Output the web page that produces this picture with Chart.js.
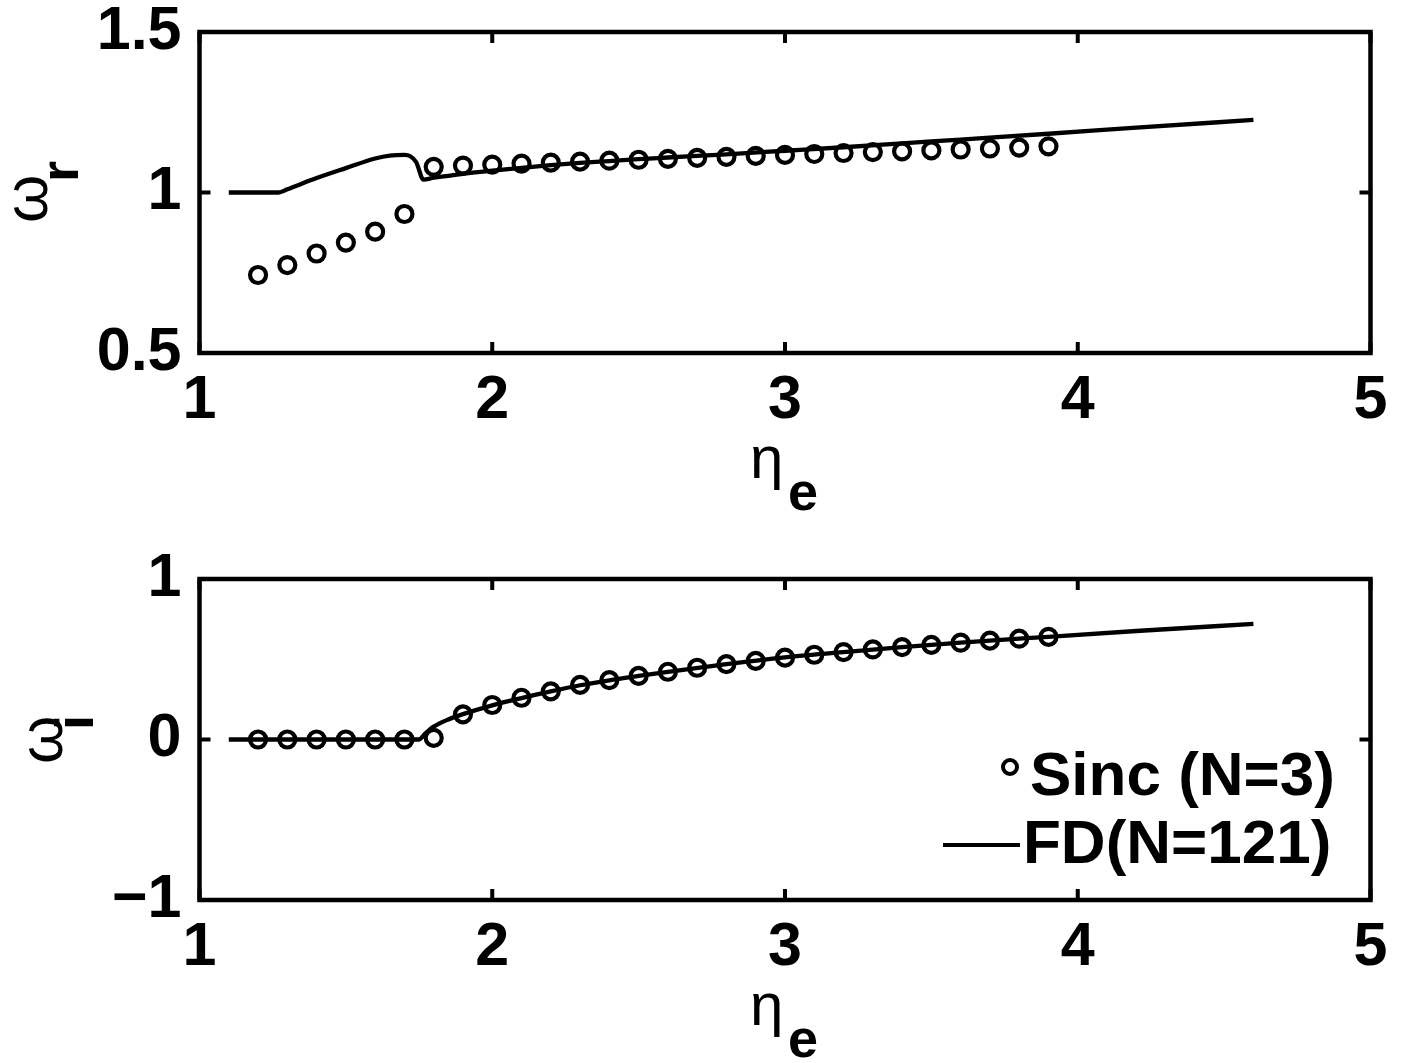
<!DOCTYPE html>
<html>
<head>
<meta charset="utf-8">
<script src="https://cdn.jsdelivr.net/npm/chart.js@4.4.1/dist/chart.umd.min.js"></script>
<style>
  html,body{margin:0;padding:0;background:#fff;}
  #wrap{position:relative;width:1405px;height:1063px;}
  canvas{position:absolute;left:0;}
  #cTop{top:0;}
  #cBot{top:540px;}
</style>
</head>
<body>
<div id="wrap">
  <canvas id="cTop" width="1405" height="540"></canvas>
  <canvas id="cBot" width="1405" height="523"></canvas>
</div>
<script>
/* 두 개의 서브플롯: 위 = 실수부(omega_r), 아래 = 허수부(omega_i) */

const FONT = "'Liberation Sans', Arial, Helvetica, sans-serif";

// Sinc (N=3) : 원형 마커
const ETA_SINC = [1.2,1.3,1.4,1.5,1.6,1.7,1.8,1.9,2.0,2.1,2.2,2.3,2.4,2.5,2.6,2.7,2.8,2.9,3.0,3.1,3.2,3.3,3.4,3.5,3.6,3.7,3.8,3.9];
const WR_SINC  = [0.743,0.774,0.810,0.844,0.878,0.933,1.080,1.084,1.087,1.090,1.093,1.096,1.099,1.102,1.105,1.108,1.111,1.114,1.117,1.120,1.123,1.126,1.128,1.131,1.134,1.137,1.140,1.144];
const WI_SINC  = [0,0,0,0,0,0,0.01,0.157,0.215,0.26,0.30,0.34,0.37,0.396,0.422,0.447,0.47,0.49,0.51,0.528,0.545,0.561,0.576,0.59,0.603,0.616,0.628,0.64];

// FD (N=121) : 실선
const ETA_FD_R = [1.1,1.2,1.27,1.3,1.4,1.5,1.6,1.65,1.7,1.72,1.74,1.765,1.8,1.85,1.9,2.0,2.1,2.2,2.3,2.4,2.5,2.6,2.8,3.0,3.2,3.4,3.6,3.9,4.2,4.6];
const WR_FD    = [1.000,1.000,1.000,1.010,1.045,1.076,1.106,1.115,1.117,1.113,1.095,1.040,1.046,1.052,1.058,1.068,1.077,1.085,1.092,1.098,1.104,1.109,1.119,1.130,1.141,1.153,1.165,1.183,1.202,1.226];
const ETA_FD_I = [1.1,1.2,1.3,1.4,1.5,1.6,1.7,1.75,1.77,1.8,1.85,1.9,2.0,2.1,2.2,2.3,2.4,2.5,2.6,2.8,3.0,3.2,3.4,3.6,3.9,4.2,4.6];
const WI_FD    = [0,0,0,0,0,0,0,0,0.035,0.08,0.125,0.158,0.213,0.258,0.300,0.338,0.369,0.396,0.422,0.470,0.512,0.545,0.575,0.603,0.640,0.676,0.720];

const X_TICKS = [1,2,3,4,5];
const LABEL_SINC = 'Sinc (N=3)';
const LABEL_FD   = 'FD(N=121)';

const pts = (xs, ys) => xs.map((x,i) => ({x, y:ys[i]}));
const minusFmt = v => v < 0 ? '\u2212' + Math.abs(v) : String(v);

/* ── 박스 + 안쪽 눈금 + 축 제목 + 범례 ─────────────────────── */
const framePlugin = {
  id:'frame',
  afterDraw(chart, args, o){
    const ctx = chart.ctx, a = chart.chartArea;
    const xs = chart.scales.x, ys = chart.scales.y;
    ctx.save();
    ctx.strokeStyle = '#000'; ctx.lineWidth = 4.5;
    ctx.strokeRect(a.left, a.top, a.right - a.left, a.bottom - a.top);
    ctx.lineWidth = 4;
    const TL = 11;
    ctx.beginPath();
    xs.ticks.forEach(t => {
      const px = xs.getPixelForValue(t.value);
      ctx.moveTo(px, a.bottom); ctx.lineTo(px, a.bottom - TL);
      ctx.moveTo(px, a.top);    ctx.lineTo(px, a.top + TL);
    });
    ys.ticks.forEach(t => {
      const py = ys.getPixelForValue(t.value);
      ctx.moveTo(a.left, py);  ctx.lineTo(a.left + TL, py);
      ctx.moveTo(a.right, py); ctx.lineTo(a.right - TL, py);
    });
    ctx.stroke();

    ctx.fillStyle = '#000';
    ctx.textBaseline = 'alphabetic';
    ctx.textAlign = 'left';
    // x축 제목  η_e
    ctx.font = `normal 60px ${FONT}`;
    ctx.fillText('\u03B7', o.xl.x, o.xl.y);
    ctx.font = `bold 54px ${FONT}`;
    ctx.fillText('e', o.xl.sx, o.xl.sy);
    // y축 제목  ω_r / ω_i (회전)
    ctx.save();
    ctx.translate(o.yl.x, o.yl.y); ctx.rotate(-Math.PI/2);
    ctx.font = `normal 62px ${FONT}`;
    ctx.fillText('\u03C9', 0, 0);
    ctx.restore();
    ctx.save();
    ctx.translate(o.yl.sx, o.yl.sy); ctx.rotate(-Math.PI/2);
    ctx.font = `bold 54px ${FONT}`;
    ctx.fillText(o.yl.sub, 0, 0);
    ctx.restore();

    // 범례
    if(o.legend){
      const L = o.legend;
      ctx.font = `bold 62px ${FONT}`;
      ctx.lineWidth = 4;
      ctx.beginPath(); ctx.arc(L.cx, L.cy, 7, 0, Math.PI*2); ctx.stroke();
      ctx.fillText(chart.data.datasets[0].label, L.t1x, L.t1y);
      ctx.lineWidth = 4;
      ctx.beginPath(); ctx.moveTo(L.lx0, L.ly); ctx.lineTo(L.lx1, L.ly); ctx.stroke();
      ctx.fillText(chart.data.datasets[1].label, L.t2x, L.t2y);
    }
    ctx.restore();
  }
};

function mkPanel(id, sinc, fd, yMin, yMax, yStep, padTop, xHeight, frameOpts){
  new Chart(document.getElementById(id), {
    type:'line',
    data:{datasets:[
      {label:LABEL_SINC, data:sinc, showLine:false, pointStyle:'circle', pointRadius:8, pointHoverRadius:8,
       pointBorderWidth:4.2, borderColor:'#000', pointBorderColor:'#000', backgroundColor:'rgba(0,0,0,0)', pointBackgroundColor:'rgba(0,0,0,0)', order:2},
      {label:LABEL_FD, data:fd, borderColor:'#000', borderWidth:4.3, pointRadius:0, fill:false,
       cubicInterpolationMode:'monotone', order:1}
    ]},
    options:{
      responsive:false, animation:false, events:[],
      layout:{padding:{left:0, top:padTop, right:34.5, bottom:0}},
      plugins:{legend:{display:false}, tooltip:{enabled:false}, frame:frameOpts},
      scales:{
        x:{type:'linear', min:1, max:5, offset:false,
           afterBuildTicks:s => { s.ticks = X_TICKS.map(v => ({value:v})); },
           afterFit:s => { s.height = xHeight; s.paddingLeft = 0; s.paddingRight = 0; },
           grid:{display:false}, border:{display:false},
           ticks:{color:'#000', padding:4, maxRotation:0, autoSkip:false, callback:v => String(v),
                  font:{family:FONT, size:61, weight:'bold'}}},
        y:{type:'linear', min:yMin, max:yMax,
           afterFit:s => { s.width = 199.5; s.paddingTop = 0; s.paddingBottom = 0; },
           grid:{display:false}, border:{display:false},
           ticks:{color:'#000', padding:10, stepSize:yStep, callback:minusFmt,
                  font:{family:FONT, size:61, weight:'bold'}}}
      }
    },
    plugins:[framePlugin]
  });
}

mkPanel('cTop', pts(ETA_SINC, WR_SINC), pts(ETA_FD_R, WR_FD), 0.5, 1.5, 0.5, 32, 187, {
  xl:{x:750, y:478, sx:788, sy:510},
  yl:{x:47, y:223, sx:78, sy:182, sub:'r'}
});

mkPanel('cBot', pts(ETA_SINC, WI_SINC), pts(ETA_FD_I, WI_FD), -1, 1, 1, 39, 163, {
  xl:{x:750, y:485, sx:788, sy:517},
  yl:{x:62, y:224, sx:93, sy:190, sub:'i'},
  legend:{cx:1010, cy:227, t1x:1030, t1y:255, lx0:943, lx1:1020, ly:305, t2x:1023, t2y:323}
});
</script>
</body>
</html>
